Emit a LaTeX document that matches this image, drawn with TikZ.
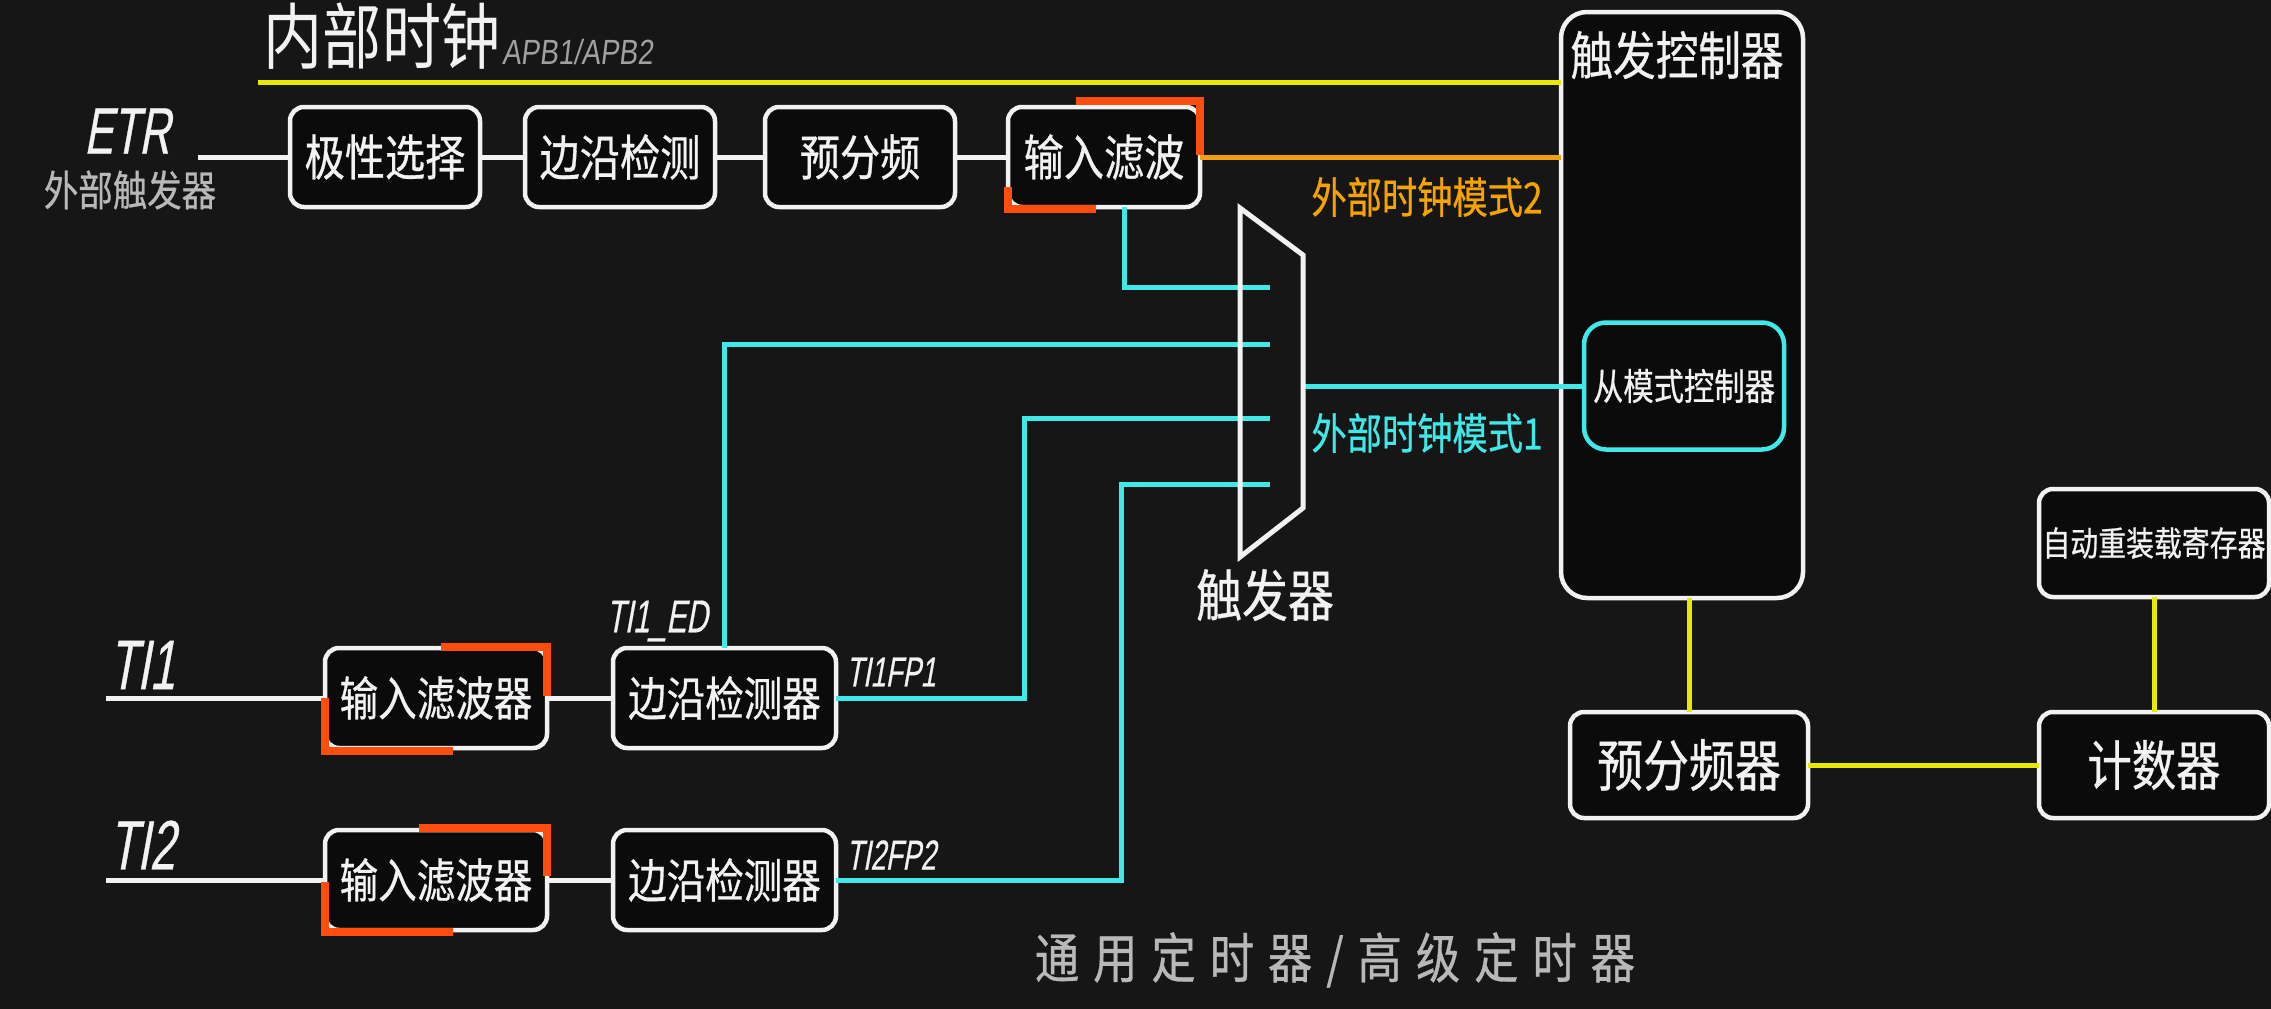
\documentclass[tikz,border=0pt]{standalone}
\usepackage{fontspec}
\setmainfont{Noto Sans CJK SC}[FakeStretch=0.82,FakeBold=0.6]
\newfontfamily\cjkreg{Noto Sans CJK SC}[FakeStretch=0.82]
\newfontfamily\latit{Liberation Sans}[FakeStretch=0.65,FakeSlant=0.18,FakeBold=0.5]
\newfontfamily\latapb{Liberation Sans}[FakeStretch=0.8,FakeSlant=0.12]
\definecolor{bg}{HTML}{161616}
\definecolor{boxfill}{HTML}{0B0B0B}
\definecolor{wh}{HTML}{F2F2F2}
\definecolor{cyanc}{HTML}{40E8E8}
\definecolor{yel}{HTML}{E8E800}
\definecolor{orgtxt}{HTML}{F5A300}
\definecolor{orgline}{HTML}{F0A010}
\definecolor{hlc}{HTML}{FF4D0D}
\definecolor{grey1}{HTML}{A0A0A0}
\definecolor{grey2}{HTML}{B8B8B8}
\newcommand\setfs[1]{\fontsize{#1}{#1}\selectfont}
\begin{document}
\begin{tikzpicture}[x=1pt,y=-1pt,
  blk/.style={draw=wh, line width=4.5pt, rounded corners=14pt, fill=boxfill, inner sep=0pt, outer sep=0pt, text=wh, align=center},
  wire/.style={draw=wh, line width=5pt},
  cy/.style={draw=cyanc, line width=5pt},
  yl/.style={draw=yel, line width=5pt},
  hl/.style={draw=hlc, line width=8pt},
  lbl/.style={inner sep=0pt, outer sep=0pt, text=wh}]
\fill[bg] (0,0) rectangle (2271,1009);
\useasboundingbox (0,0) rectangle (2271,1009);

% ---------- top row ----------
\node[lbl, font=\cjkreg\setfs{72}] (title) at (382,36) {内部时钟};
\node[lbl, anchor=base west, text=grey1, font=\latapb\setfs{35}] (apb) at (502,64) {APB1/APB2};
\node[lbl, font=\latit\setfs{66}] (etr) at (127,131) {ETR};
\node[lbl, font=\setfs{42}, text=grey2] (etrsub) at (130,190) {外部触发器};
\coordinate (etrin) at (198,157);

\node[blk, minimum width=190pt, minimum height=100pt, font=\setfs{49}] (pol) at (385,157) {极性选择};
\node[blk, minimum width=190pt, minimum height=100pt, font=\setfs{49}] (edg) at (620,157) {边沿检测};
\node[blk, minimum width=190pt, minimum height=100pt, font=\setfs{49}] (psc) at (860,157) {预分频};
\node[blk, minimum width=192pt, minimum height=100pt, font=\setfs{49}] (filt) at (1104,157) {输入滤波};

% ---------- trigger controller ----------
\node[blk, rounded corners=26pt, minimum width=242pt, minimum height=586pt] (tctl) at (1682,305) {};
\node[lbl, font=\setfs{52}] (tctltitle) at (1677,55) {触发控制器};
\node[blk, draw=cyanc, rounded corners=22pt, minimum width=200pt, minimum height=127pt, font=\setfs{37}] (smc) at (1684,386) {从模式控制器};

% ---------- right side ----------
\node[blk, minimum width=230pt, minimum height=108pt, font=\setfs{34}] (arr) at (2154,543) {自动重装载寄存器};
\node[blk, minimum width=230pt, minimum height=106pt, font=\setfs{54}] (cnt) at (2154,765) {计数器};
\node[blk, minimum width=238pt, minimum height=106pt, font=\setfs{56}] (pscb) at (1689,765) {预分频器};

% ---------- bottom row ----------
\node[lbl, font=\latit\setfs{70}] (ti1) at (142,665) {TI1};
\node[lbl, font=\latit\setfs{70}] (ti2) at (142,845) {TI2};
\coordinate (ti1in) at (106,698);
\coordinate (ti2in) at (106,880);
\node[blk, minimum width=222pt, minimum height=100pt, font=\setfs{47}] (f1) at (436,698) {输入滤波器};
\node[blk, minimum width=223pt, minimum height=100pt, font=\setfs{47}] (e1) at (724.5,698) {边沿检测器};
\node[blk, minimum width=222pt, minimum height=100pt, font=\setfs{47}] (f2) at (436,880) {输入滤波器};
\node[blk, minimum width=223pt, minimum height=100pt, font=\setfs{47}] (e2) at (724.5,880) {边沿检测器};
\node[lbl, font=\latit\setfs{46}] (ti1ed) at (657,621) {TI1\_ED};
\node[lbl, font=\latit\setfs{42}] (ti1fp1) at (891,672) {TI1FP1};
\node[lbl, font=\latit\setfs{42}] (ti2fp2) at (891,855) {TI2FP2};

% ---------- mux ----------
\coordinate (m1) at (1240,208);
\coordinate (m2) at (1303,255);
\coordinate (m3) at (1303,508);
\coordinate (m4) at (1240,557);
\coordinate (in1) at (1270,287);
\coordinate (in2) at (1270,344);
\coordinate (in3) at (1270,418);
\coordinate (in4) at (1270,484);
\coordinate (mout) at (1303,386);
\coordinate (j3) at (1024,0);
\coordinate (j4) at (1121,0);

% ---------- connectors ----------
\draw[yl] (258,82) coordinate (ylstart) -- (ylstart -| tctl.west);
\draw[draw=orgline, line width=5pt] (filt.east) -- (filt.east -| tctl.west);
\draw[wire] (etrin) -- (pol.west);
\draw[wire] (pol.east) -- (edg.west);
\draw[wire] (edg.east) -- (psc.west);
\draw[wire] (psc.east) -- (filt.west);
\draw[wire] (ti1in) -- (f1.west);
\draw[wire] (f1.east) -- (e1.west);
\draw[wire] (ti2in) -- (f2.west);
\draw[wire] (f2.east) -- (e2.west);

\draw[cy] ([xshift=20pt]filt.south) |- (in1);
\draw[cy] (e1.north) |- (in2);
\draw[cy] (e1.east) -| (e1.east -| j3) |- (in3);
\draw[cy] (e2.east) -| (e2.east -| j4) |- (in4);
\draw[cy] (mout) -- (mout -| smc.west);

\draw[yl] (tctl.south -| pscb.north) -- (pscb.north);
\draw[yl] (pscb.east) -- (cnt.west);
\draw[yl] (arr.south) -- (cnt.north);

\draw[draw=wh, line width=5pt, line join=miter] (m1) -- (m2) -- (m3) -- (m4) -- cycle;
\node[lbl, font=\setfs{56}] (muxlbl) at (1265,595) {触发器};

% ---------- mode labels ----------
\node[lbl, text=orgtxt, font=\setfs{43}] (mode2) at (1427,197) {外部时钟模式2};
\node[lbl, text=cyanc, font=\setfs{43}] (mode1) at (1427,433) {外部时钟模式1};

% ---------- orange highlights (canvas y points up) ----------
\draw[hl] ([xshift=-124pt,yshift=6pt]filt.north east) -- ([yshift=6pt]filt.north east) -- ([yshift=-48pt]filt.north east);
\draw[hl] ([xshift=88pt,yshift=-2pt]filt.south west) -- ([yshift=-2pt]filt.south west) -- ([yshift=20pt]filt.south west);
\draw[hl] ([xshift=-106pt,yshift=1pt]f1.north east) -- ([yshift=1pt]f1.north east) -- ([yshift=-48pt]f1.north east);
\draw[hl] ([xshift=128pt,yshift=-3pt]f1.south west) -- ([yshift=-3pt]f1.south west) -- ([yshift=50pt]f1.south west);
\draw[hl] ([xshift=-128pt,yshift=2pt]f2.north east) -- ([yshift=2pt]f2.north east) -- ([yshift=-46pt]f2.north east);
\draw[hl] ([xshift=128pt,yshift=-2pt]f2.south west) -- ([yshift=-2pt]f2.south west) -- ([yshift=48pt]f2.south west);

% ---------- footer ----------
\node[lbl, text=grey2, font=\setfs{54}] (footer) at (1335,960) {通\kern14pt 用\kern14pt 定\kern14pt 时\kern14pt 器\kern14pt /\kern14pt 高\kern14pt 级\kern14pt 定\kern14pt 时\kern14pt 器};
\end{tikzpicture}
\end{document}
